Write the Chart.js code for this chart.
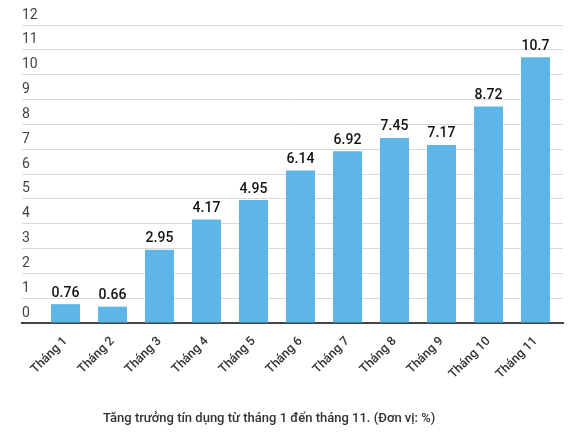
<!DOCTYPE html>
<html>
<head>
<meta charset="utf-8">
<script src="https://cdn.jsdelivr.net/npm/chart.js@4.4.0/dist/chart.umd.min.js"></script>
<style>
    body { margin: 0; background: #fff; }
    #wrap { position: relative; width: 577px; height: 444px; }
    #caption {
        position: absolute; left: 103px; top: 410px;
        font: 500 13px Roboto, sans-serif; color: #333; white-space: nowrap;
    }
</style>
</head>
<body>
<div id="wrap">
    <canvas id="chart"></canvas>
    <div id="caption">Tăng trưởng tín dụng từ tháng 1 đến tháng 11. (Đơn vị: %)</div>
</div>
<script>
const categories = ['Tháng 1', 'Tháng 2', 'Tháng 3', 'Tháng 4', 'Tháng 5', 'Tháng 6',
    'Tháng 7', 'Tháng 8', 'Tháng 9', 'Tháng 10', 'Tháng 11'];
const growth = [0.76, 0.66, 2.95, 4.17, 4.95, 6.14, 6.92, 7.45, 7.17, 8.72, 10.7];
const yTicks = [0, 1, 2, 3, 4, 5, 6, 7, 8, 9, 10, 11, 12];

// Draw the value above each bar
const valueLabels = {
    id: 'valueLabels',
    afterDatasetsDraw(chart) {
        const ctx = chart.ctx;
        const meta = chart.getDatasetMeta(0);
        ctx.save();
        ctx.font = '500 14px Roboto, sans-serif';
        ctx.fillStyle = '#111';
        ctx.textAlign = 'center';
        ctx.textBaseline = 'bottom';
        meta.data.forEach((bar, i) => {
            ctx.fillText(String(growth[i]), bar.x, bar.y - 4);
        });
        ctx.restore();
    }
};

new Chart(document.getElementById('chart'), {
    type: 'bar',
    data: {
        datasets: [{
            data: growth.map((v, i) => ({ x: i, y: v })),
            backgroundColor: '#5eb6e6',
            barPercentage: 1,
            categoryPercentage: 0.617
        }]
    },
    options: {
        responsive: true,
        maintainAspectRatio: false,
        animation: false,
        layout: { padding: { left: 22, right: 14, top: 25, bottom: 52 } },
        plugins: { legend: { display: false }, tooltip: { enabled: false } },
        scales: {
            x: {
                type: 'linear',
                offset: false,
                min: -0.9255,
                max: 10.585,
                afterFit: scale => { scale.height = 69; },
                grid: { display: false },
                border: { display: true, color: '#444', width: 2 },
                ticks: {
                    stepSize: 1,
                    includeBounds: false,
                    autoSkip: false,
                    minRotation: 45,
                    maxRotation: 45,
                    padding: 3,
                    color: '#333',
                    font: { family: 'Roboto', size: 12.5, weight: 500 },
                    callback: v => Number.isInteger(v) ? categories[v] : ''
                }
            },
            y: {
                min: yTicks[0],
                max: yTicks[yTicks.length - 1],
                grid: { color: '#d9d9d9', drawTicks: false },
                border: { display: false },
                ticks: {
                    stepSize: 1,
                    mirror: true,
                    padding: 0,
                    labelOffset: -10,
                    color: '#444',
                    font: { family: 'Roboto', size: 14 }
                }
            }
        }
    },
    plugins: [valueLabels]
});
</script>
</body>
</html>
